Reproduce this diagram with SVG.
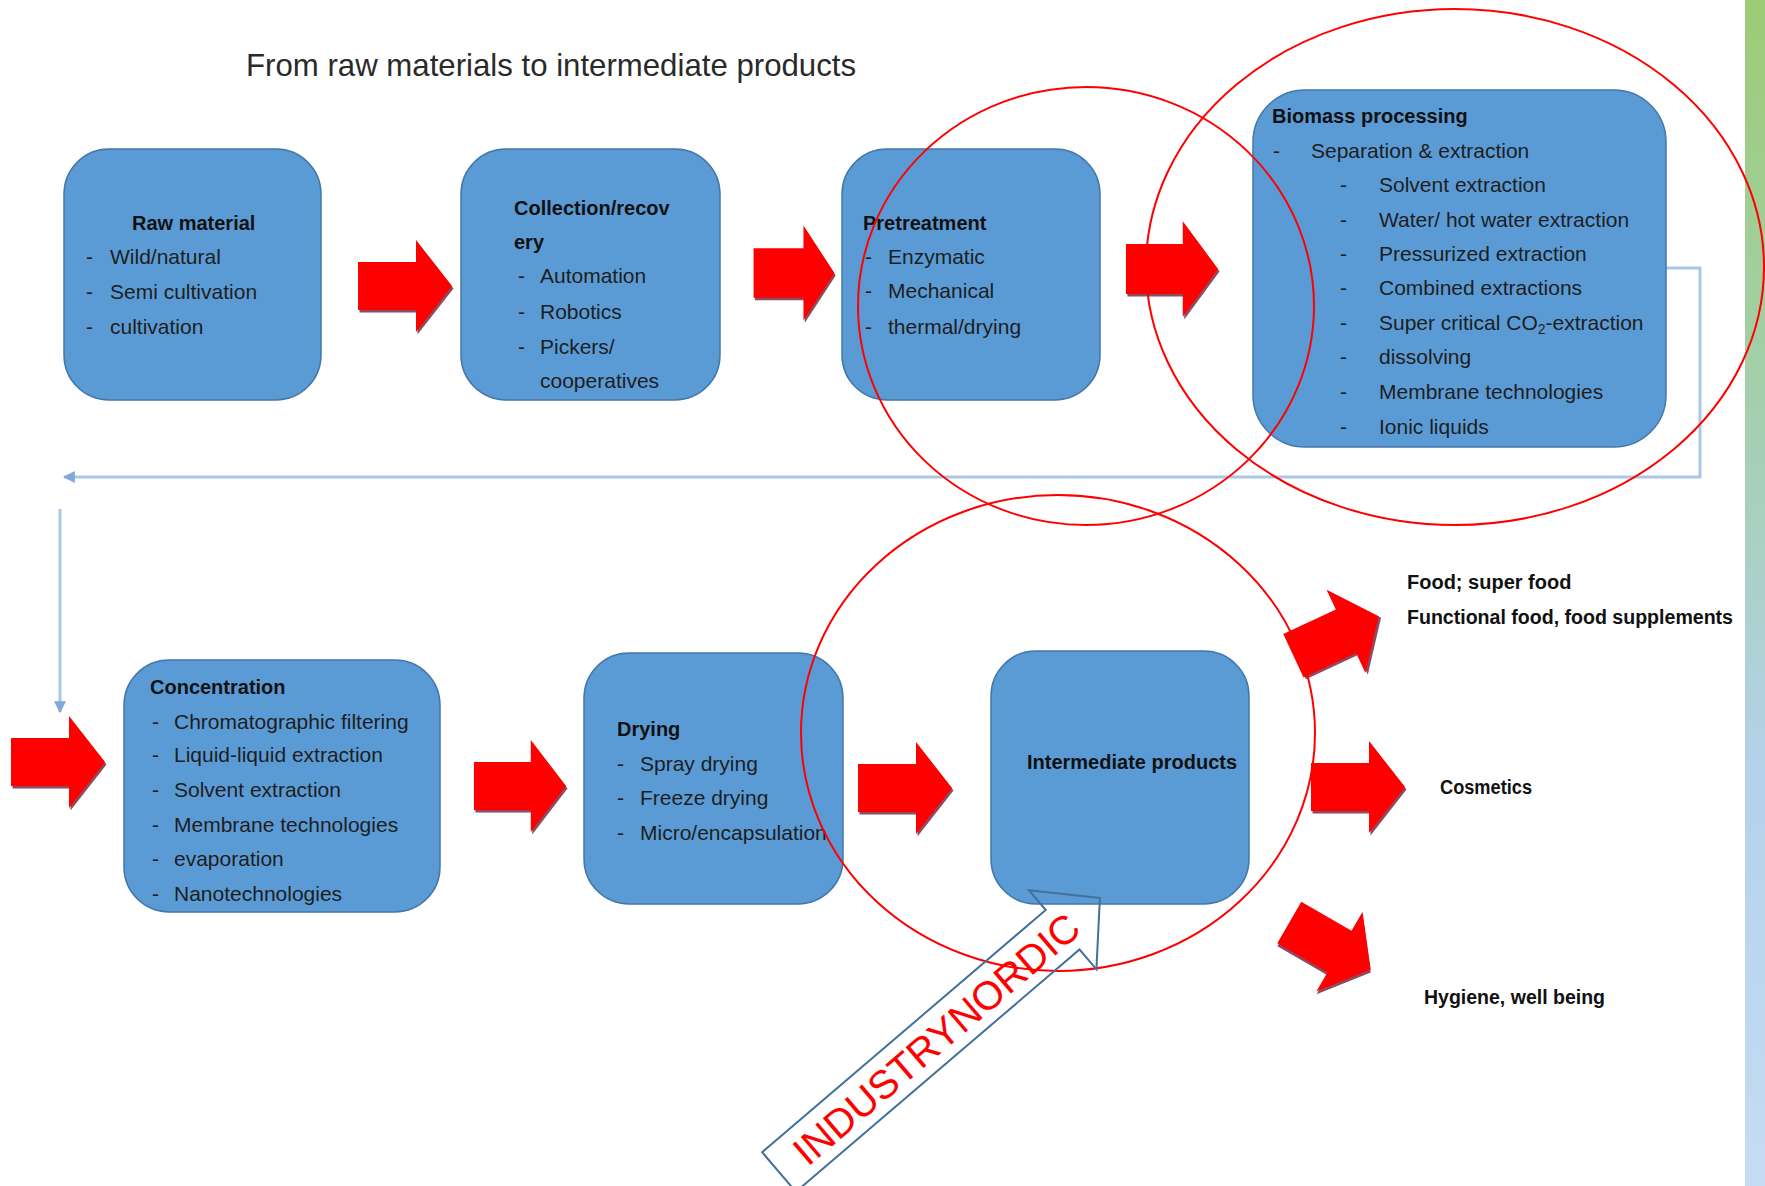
<svg xmlns="http://www.w3.org/2000/svg" width="1765" height="1186" viewBox="0 0 1765 1186">
<defs>
<style>
.box{fill:#5b9bd5;stroke:#4477aa;stroke-width:1.5}
.t{font-family:"Liberation Sans",Arial,sans-serif;font-size:21px;fill:#1e1e1e}
.b{font-family:"Liberation Sans",Arial,sans-serif;font-size:20px;font-weight:bold;fill:#111}
.ring{fill:none;stroke:#ff0000;stroke-width:2}
.conn{fill:none;stroke:#a9c8e8;stroke-width:3}
</style>
<linearGradient id="bar" x1="0" y1="0" x2="0" y2="1">
<stop offset="0" stop-color="#9ccc75"/>
<stop offset="0.4" stop-color="#a6d0b8"/>
<stop offset="0.65" stop-color="#b4d2ea"/>
<stop offset="1" stop-color="#c6dcf2"/>
</linearGradient>
<g id="blk">
<polygon points="-47,-24 11,-24 11,-46 47,0 11,46 11,24 -47,24" fill="#8e4a5e" transform="translate(1.5,2.5)"/>
<polygon points="-47,-24 11,-24 11,-46 47,0 11,46 11,24 -47,24" fill="#ff0000"/>
</g>
<marker id="ah" viewBox="0 0 10 10" refX="9" refY="5" markerWidth="4" markerHeight="4" orient="auto">
<path d="M0,0 L10,5 L0,10 z" fill="#7fa9d8"/>
</marker>
</defs>
<rect x="0" y="0" width="1765" height="1186" fill="#ffffff"/>
<rect x="1745" y="0" width="20" height="1186" fill="url(#bar)"/>

<text x="246" y="76" font-family="Liberation Sans,Arial,sans-serif" font-size="32" fill="#2a2a2a" textLength="610" lengthAdjust="spacingAndGlyphs">From raw materials to intermediate products</text>

<g id="connectors">
<polyline class="conn" points="1666,268 1700,268 1700,477 64,477" marker-end="url(#ah)"/>
<line class="conn" x1="60" y1="509" x2="60" y2="712" stroke-width="2" marker-end="url(#ah)"/>
<use href="#blk" transform="translate(405,286)"/>
<use href="#blk" transform="translate(794,273) scale(0.86,1.03)"/>
<use href="#blk" transform="translate(1172,269) scale(0.98,1.04)"/>
<use href="#blk" transform="translate(58,762)"/>
<use href="#blk" transform="translate(520,786) scale(0.98,1)"/>
<use href="#blk" transform="translate(905,788)"/>
<use href="#blk" transform="translate(1358,787)"/>
<use href="#blk" transform="translate(1336,636) rotate(-25)"/>
<use href="#blk" transform="translate(1330,946) rotate(30)"/>
</g>

<g id="raw-material">
<rect class="box" x="64" y="149" width="257" height="251" rx="45"/>
<text class="b" x="132" y="230">Raw material</text>
<text class="t" x="86" y="264">-</text><text class="t" x="110" y="264">Wild/natural</text>
<text class="t" x="86" y="299">-</text><text class="t" x="110" y="299">Semi cultivation</text>
<text class="t" x="86" y="334">-</text><text class="t" x="110" y="334">cultivation</text>
</g>

<g id="collection">
<rect class="box" x="461" y="149" width="259" height="251" rx="45"/>
<text class="b" x="514" y="215">Collection/recov</text>
<text class="b" x="514" y="249">ery</text>
<text class="t" x="518" y="283">-</text><text class="t" x="540" y="283">Automation</text>
<text class="t" x="518" y="319">-</text><text class="t" x="540" y="319">Robotics</text>
<text class="t" x="518" y="354">-</text><text class="t" x="540" y="354">Pickers/</text>
<text class="t" x="540" y="388">cooperatives</text>
</g>

<g id="pretreatment">
<rect class="box" x="842" y="149" width="258" height="251" rx="45"/>
<text class="b" x="863" y="230">Pretreatment</text>
<text class="t" x="865" y="264">-</text><text class="t" x="888" y="264">Enzymatic</text>
<text class="t" x="865" y="298">-</text><text class="t" x="888" y="298">Mechanical</text>
<text class="t" x="865" y="334">-</text><text class="t" x="888" y="334">thermal/drying</text>
</g>

<g id="biomass">
<rect class="box" x="1253" y="90" width="413" height="357" rx="52"/>
<text class="b" x="1272" y="123" font-size="18">Biomass processing</text>
<text class="t" x="1273" y="158">-</text><text class="t" x="1311" y="158">Separation &amp; extraction</text>
<text class="t" x="1340" y="192">-</text><text class="t" x="1379" y="192">Solvent extraction</text>
<text class="t" x="1340" y="227">-</text><text class="t" x="1379" y="227">Water/ hot water extraction</text>
<text class="t" x="1340" y="261">-</text><text class="t" x="1379" y="261">Pressurized extraction</text>
<text class="t" x="1340" y="295">-</text><text class="t" x="1379" y="295">Combined extractions</text>
<text class="t" x="1340" y="330">-</text><text class="t" x="1379" y="330">Super critical CO<tspan font-size="14" dy="4">2</tspan><tspan dy="-4">-extraction</tspan></text>
<text class="t" x="1340" y="364">-</text><text class="t" x="1379" y="364">dissolving</text>
<text class="t" x="1340" y="399">-</text><text class="t" x="1379" y="399">Membrane technologies</text>
<text class="t" x="1340" y="434">-</text><text class="t" x="1379" y="434">Ionic liquids</text>
</g>

<g id="concentration">
<rect class="box" x="124" y="660" width="316" height="252" rx="45"/>
<text class="b" x="150" y="694">Concentration</text>
<text class="t" x="152" y="729">-</text><text class="t" x="174" y="729">Chromatographic filtering</text>
<text class="t" x="152" y="762">-</text><text class="t" x="174" y="762">Liquid-liquid extraction</text>
<text class="t" x="152" y="797">-</text><text class="t" x="174" y="797">Solvent extraction</text>
<text class="t" x="152" y="832">-</text><text class="t" x="174" y="832">Membrane technologies</text>
<text class="t" x="152" y="866">-</text><text class="t" x="174" y="866">evaporation</text>
<text class="t" x="152" y="901">-</text><text class="t" x="174" y="901">Nanotechnologies</text>
</g>

<g id="drying">
<rect class="box" x="584" y="653" width="259" height="251" rx="45"/>
<text class="b" x="617" y="736">Drying</text>
<text class="t" x="617" y="771">-</text><text class="t" x="640" y="771">Spray drying</text>
<text class="t" x="617" y="805">-</text><text class="t" x="640" y="805">Freeze drying</text>
<text class="t" x="617" y="840">-</text><text class="t" x="640" y="840">Micro/encapsulation</text>
</g>

<g id="intermediate">
<rect class="box" x="991" y="651" width="258" height="253" rx="45"/>
<text class="b" x="1027" y="769">Intermediate products</text>
</g>

<g id="food">
<text class="b" x="1407" y="589">Food; super food</text>
<text class="b" x="1407" y="624" textLength="326" lengthAdjust="spacingAndGlyphs">Functional food, food supplements</text>
</g>
<g id="cosmetics">
<text class="b" x="1440" y="794" textLength="92" lengthAdjust="spacingAndGlyphs">Cosmetics</text>
</g>
<g id="hygiene">
<text class="b" x="1424" y="1004" textLength="181" lengthAdjust="spacingAndGlyphs">Hygiene, well being</text>
</g>

<g id="rings">
<ellipse class="ring" cx="1086" cy="306" rx="228" ry="219"/>
<ellipse class="ring" cx="1455" cy="267" rx="309" ry="258"/>
<ellipse class="ring" cx="1058" cy="733" rx="257" ry="238"/>
</g>

<g id="industrynordic" transform="translate(779,1172) rotate(-40.5)">
<polygon points="0,-26 373,-26 373,-52 422,0 373,52 373,26 0,26" fill="none" stroke="#41719c" stroke-width="2"/>
<text x="25" y="15" font-family="Liberation Sans,Arial,sans-serif" font-size="40" fill="#ff0000" textLength="362" lengthAdjust="spacingAndGlyphs">INDUSTRYNORDIC</text>
</g>
</svg>
